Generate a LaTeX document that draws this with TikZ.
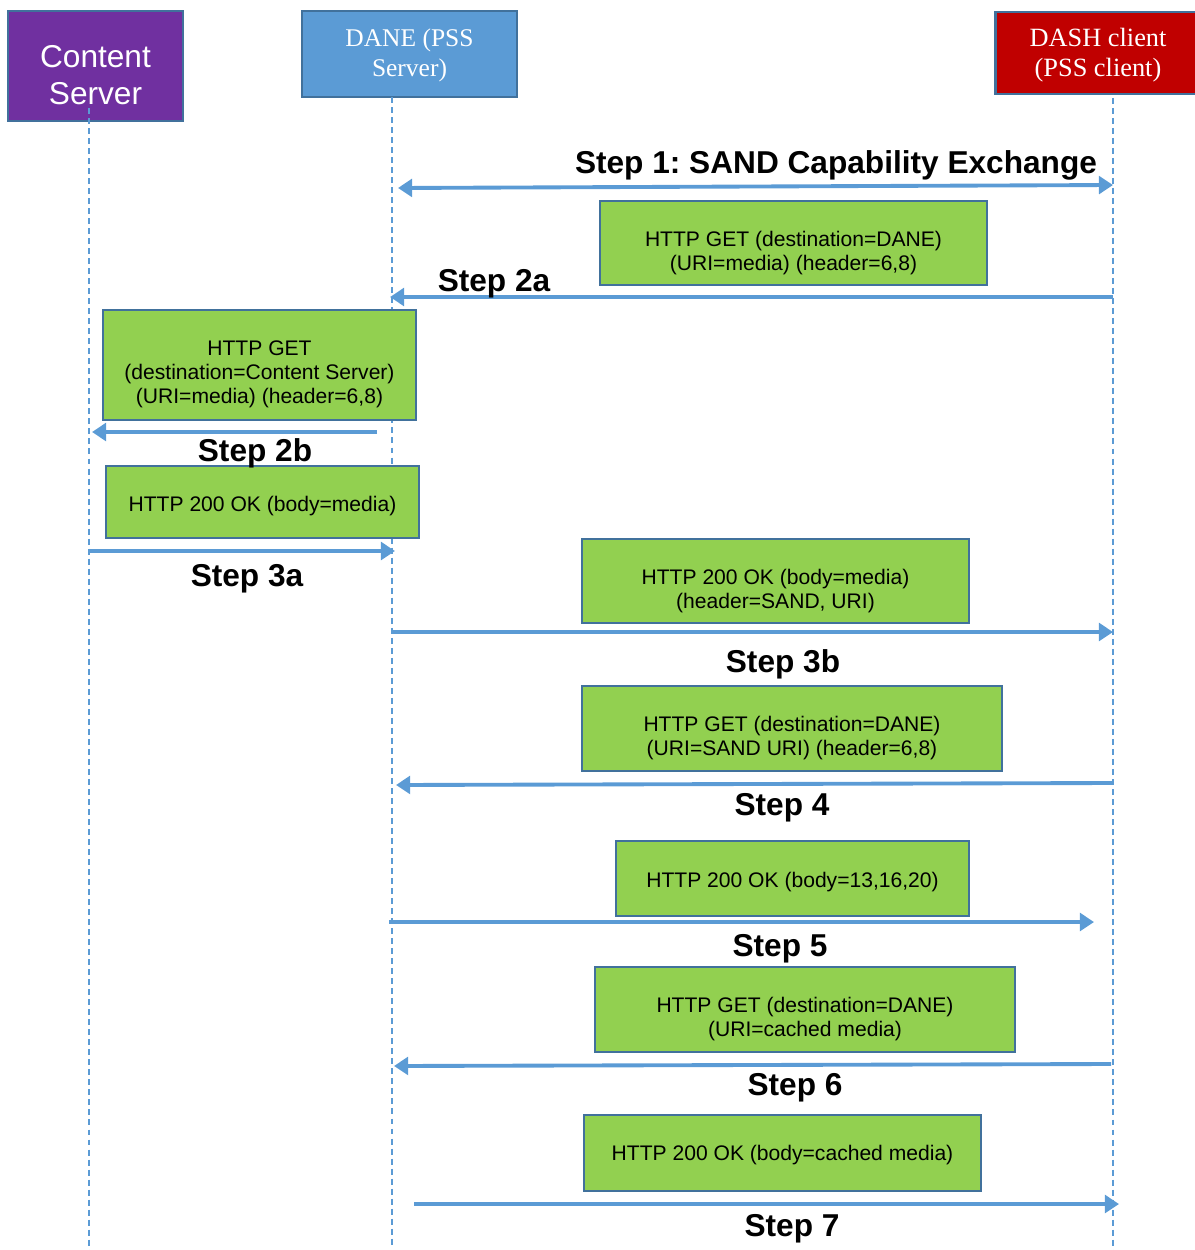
\documentclass[tikz,border=0pt]{standalone}
\usepackage{fontspec}
\setmainfont{Liberation Sans}
\newfontfamily\headserif{Liberation Serif}
\usepackage{tikz}
\usetikzlibrary{positioning,calc,arrows.meta}
\definecolor{lineblue}{HTML}{5B9BD5}
\definecolor{edgeblue}{HTML}{41719C}
\definecolor{boxgreen}{HTML}{92D050}
\definecolor{cspurple}{HTML}{7030A0}
\definecolor{dashred}{HTML}{C00000}
\tikzset{
  >={Triangle[length=8pt,width=10pt]},
  headbox/.style={draw=edgeblue, line width=1.4pt, text=white, align=center, inner sep=0pt},
  msgbox/.style={draw=edgeblue, line width=1.4pt, fill=boxgreen, align=center, inner sep=0pt,
    font=\fontsize{12}{13.6}\selectfont},
  textdrop/.style={text height=#1, text depth=0pt},
  lifeline/.style={lineblue, line width=0.7pt, dash pattern=on 3.4pt off 2.3pt},
  msg/.style={lineblue, line width=2.2pt, ->},
  steplbl/.style={font=\bfseries\fontsize{18}{20}\selectfont}
}

\begin{document}
\frenchspacing
\begin{tikzpicture}[x=0.02cm, y=-0.02cm]
\useasboundingbox (0,0) rectangle (1194,1250);

% lifelines
\coordinate (csT) at (89,108);    \coordinate (csB) at (89,1250);
\coordinate (daneT) at (392,97);  \coordinate (daneB) at (392,1245);
\coordinate (dashT) at (1113,98); \coordinate (dashB) at (1113,1250);

\node[headbox, fill=cspurple, minimum width=3.5cm, minimum height=2.2cm, textdrop=44pt,
  font=\fontsize{18}{21}\selectfont] (CS) at (95.5,66) {Content\\Server};
\node[headbox, fill=lineblue, minimum width=4.3cm, minimum height=1.72cm, textdrop=25.5pt,
  font=\headserif\fontsize{14.5}{17}\selectfont] (DANE) at (409.5,54) {DANE (PSS\\Server)};
\node[headbox, fill=dashred, minimum width=4.1cm, minimum height=1.64cm, textdrop=27pt,
  font=\headserif\fontsize{15}{17}\selectfont] (DASH) at (1098,53) {DASH client\\(PSS client)};

\draw[lifeline] (csT) -- (csB);
\draw[lifeline] (daneT) -- (daneB);
\draw[lifeline] (dashT) -- (dashB);

% messages
\node[msgbox, minimum width=7.74cm, minimum height=1.68cm, textdrop=31.2pt] (GET1) at (793.5,243)
  {HTTP GET (destination=DANE)\\(URI=media) (header=6,8)};
\node[msgbox, minimum width=6.26cm, minimum height=2.2cm, textdrop=43.6pt] (GET2) at (259.5,365)
  {HTTP GET\\(destination=Content Server)\\(URI=media) (header=6,8)};
\node[msgbox, minimum width=6.26cm, minimum height=1.44cm, textdrop=10.8pt] (OK1) at (262.5,502)
  {HTTP 200 OK (body=media)};
\node[msgbox, minimum width=7.74cm, minimum height=1.68cm, textdrop=31.2pt] (OK2) at (775.5,581)
  {HTTP 200 OK (body=media)\\(header=SAND, URI)};
\node[msgbox, minimum width=8.4cm, minimum height=1.7cm, textdrop=30.6pt] (GET3) at (792,728.5)
  {HTTP GET (destination=DANE)\\(URI=SAND URI) (header=6,8)};
\node[msgbox, minimum width=7.06cm, minimum height=1.5cm, textdrop=10.2pt] (OK3) at (792.5,878.5)
  {HTTP 200 OK (body=13,16,20)};
\node[msgbox, minimum width=8.4cm, minimum height=1.7cm, textdrop=30.6pt] (GET4) at (805,1009.5)
  {HTTP GET (destination=DANE)\\(URI=cached media)};
\node[msgbox, minimum width=7.94cm, minimum height=1.52cm, textdrop=8.5pt] (OK4) at (782.5,1153)
  {HTTP 200 OK (body=cached media)};

% arrows
\coordinate (s1L) at (398,188);  \coordinate (s1R) at (1113,185);
\coordinate (s2aR) at (1113,297); \coordinate (s2aL) at (390,297);
\coordinate (s2bR) at (377,432); \coordinate (s2bL) at (92,432);
\coordinate (s3aL) at (89,551);  \coordinate (s3aR) at (395,551);
\coordinate (s3bL) at (392,632); \coordinate (s3bR) at (1113,632);
\coordinate (s4R) at (1113,783); \coordinate (s4L) at (396,785);
\coordinate (s5L) at (389,922);  \coordinate (s5R) at (1094,922);
\coordinate (s6R) at (1111,1064); \coordinate (s6L) at (394,1066);
\coordinate (s7L) at (414,1204); \coordinate (s7R) at (1119,1204);

\draw[msg, <->] (s1L) -- (s1R);
\draw[msg] (s2aR) -- (s2aL);
\draw[msg] (s2bR) -- (s2bL);
\draw[msg] (s3aL) -- (s3aR);
\draw[msg] (s3bL) -- (s3bR);
\draw[msg] (s4R) -- (s4L);
\draw[msg] (s5L) -- (s5R);
\draw[msg] (s6R) -- (s6L);
\draw[msg] (s7L) -- (s7R);

\node[steplbl] (L1) at (836,165.5) {Step 1: SAND Capability Exchange};
\node[steplbl] (L2a) at (494,283.5) {Step 2a};
\node[steplbl] (L2b) at (255,453.5) {Step 2b};
\node[steplbl] (L3a) at (247,578.5) {Step 3a};
\node[steplbl] (L3b) at (783,664.5) {Step 3b};
\node[steplbl] (L4) at (782,807.5) {Step 4};
\node[steplbl] (L5) at (780,948.5) {Step 5};
\node[steplbl] (L6) at (795,1087.5) {Step 6};
\node[steplbl] (L7) at (792,1228.5) {Step 7};

\end{tikzpicture}
\end{document}
